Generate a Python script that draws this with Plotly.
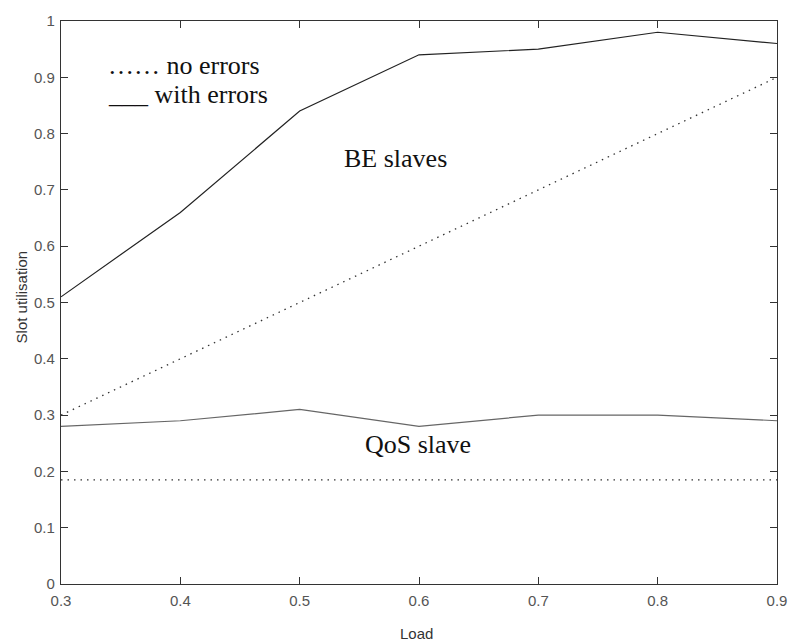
import plotly.graph_objects as go

load = [0.3, 0.4, 0.5, 0.6, 0.7, 0.8, 0.9]
be_with_errors = [0.51, 0.66, 0.84, 0.94, 0.95, 0.98, 0.96]
be_no_errors = [0.3, 0.4, 0.5, 0.6, 0.7, 0.8, 0.9]
qos_with_errors = [0.28, 0.29, 0.31, 0.28, 0.30, 0.30, 0.29]
qos_no_errors = [0.185, 0.185, 0.185, 0.185, 0.185, 0.185, 0.185]

x_ticks = [0.3, 0.4, 0.5, 0.6, 0.7, 0.8, 0.9]
x_tick_text = ["0.3", "0.4", "0.5", "0.6", "0.7", "0.8", "0.9"]
y_ticks = [0, 0.1, 0.2, 0.3, 0.4, 0.5, 0.6, 0.7, 0.8, 0.9, 1]
y_tick_text = ["0", "0.1", "0.2", "0.3", "0.4", "0.5", "0.6", "0.7", "0.8", "0.9", "1"]

dot = "1.5px,5px"
fig = go.Figure()
fig.add_trace(go.Scatter(x=load, y=be_with_errors, mode="lines",
                         line=dict(color="#222222", width=1.2)))
fig.add_trace(go.Scatter(x=load, y=be_no_errors, mode="lines",
                         line=dict(color="#333333", width=1.3, dash=dot)))
fig.add_trace(go.Scatter(x=load, y=qos_with_errors, mode="lines",
                         line=dict(color="#666666", width=1.2)))
fig.add_trace(go.Scatter(x=load, y=qos_no_errors, mode="lines",
                         line=dict(color="#333333", width=1.3, dash=dot)))

serif = "Liberation Serif, Times New Roman, serif"
sans = "Liberation Sans, Arial, sans-serif"
txt = dict(family=serif, size=26, color="#111111")
fig.add_annotation(x=0.338, y=0.921, text="…… no errors", showarrow=False,
                   xanchor="left", yanchor="middle", font=txt)
fig.add_annotation(x=0.338, y=0.870, text="___ with errors", showarrow=False,
                   xanchor="left", yanchor="middle", font=txt)
fig.add_annotation(x=0.580, y=0.756, text="BE slaves", showarrow=False,
                   xanchor="center", yanchor="middle", font=txt)
fig.add_annotation(x=0.599, y=0.247, text="QoS slave", showarrow=False,
                   xanchor="center", yanchor="middle", font=txt)

# axis titles placed in pixels relative to the plot area
title_font = dict(family=sans, size=15, color="#333333")
fig.add_annotation(xref="paper", yref="paper", x=0.497, y=0, yshift=-49,
                   text="Load", showarrow=False, xanchor="center", yanchor="middle",
                   font=title_font)
fig.add_annotation(xref="paper", yref="paper", x=0, xshift=-40, y=0.509,
                   text="Slot utilisation", showarrow=False, textangle=-90,
                   xanchor="center", yanchor="middle", font=title_font)

axis_common = dict(showline=True, linecolor="#333333", linewidth=1.3, mirror="ticks",
                   ticks="inside", ticklen=7, tickcolor="#333333", tickwidth=1.3,
                   showgrid=False, zeroline=False,
                   tickfont=dict(family=sans, size=15, color="#555555"))
fig.update_xaxes(range=[0.3, 0.9], tickvals=x_ticks, ticktext=x_tick_text,
                 ticklabelstandoff=3, **axis_common)
fig.update_yaxes(range=[0, 1], tickvals=y_ticks, ticktext=y_tick_text,
                 ticklabelstandoff=2, **axis_common)
fig.update_layout(width=799, height=641, showlegend=False,
                  margin=dict(l=61, r=12, t=14, b=57),
                  plot_bgcolor="white", paper_bgcolor="white")
fig.write_html("out.html")
